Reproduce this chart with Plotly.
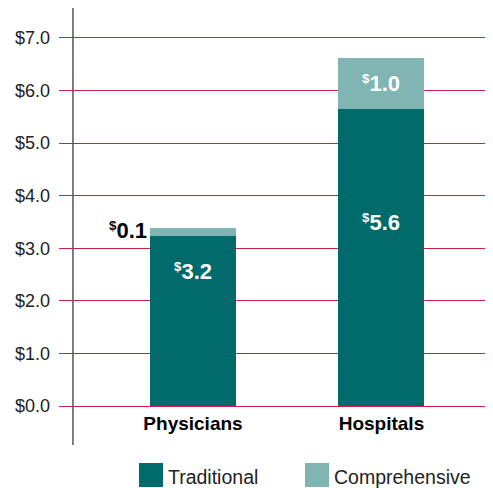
import plotly.graph_objects as go

# datos
categories = ["Physicians", "Hospitals"]
traditional = [3.24, 5.64]
comprehensive = [0.14, 0.98]
series_names = ["Traditional", "Comprehensive"]

TRAD_COLOR = "#006b6a"
COMP_COLOR = "#80b5b3"
GRID_COLOR = "#cc1f45"
FONT = "Helvetica, Arial, Liberation Sans, sans-serif"


def money(v):
    return "<sup>$</sup><span style='font-size:22px'>%.1f</span>" % v


fig = go.Figure()
fig.add_trace(go.Bar(name=series_names[0], x=categories, y=traditional,
                     marker=dict(color=TRAD_COLOR, line=dict(width=0)), width=0.456))
fig.add_trace(go.Bar(name=series_names[1], x=categories, y=comprehensive,
                     marker=dict(color=COMP_COLOR, line=dict(width=0)), width=0.456))

# etiquetas de valores
label_font = dict(color="white", size=19, weight="bold")
fig.add_annotation(x=categories[0], y=traditional[0] * 0.79, text=money(traditional[0]),
                   showarrow=False, font=label_font)
fig.add_annotation(x=categories[1], y=traditional[1] * 0.62, text=money(traditional[1]),
                   showarrow=False, font=label_font)
fig.add_annotation(x=categories[1], y=traditional[1] + comprehensive[1] / 2, text=money(comprehensive[1]),
                   showarrow=False, font=label_font)
fig.add_annotation(x=categories[0], y=traditional[0] + comprehensive[0] / 2, text=money(comprehensive[0]),
                   showarrow=False, xanchor="right", xshift=-44, yshift=1,
                   font=dict(color="black", size=19, weight="bold"))

# eje vertical
fig.add_shape(type="line", xref="x", yref="paper", x0=-0.637, x1=-0.637, y0=-0.092, y1=1.058,
              line=dict(color="#555555", width=1.5))

# leyenda dibujada a mano (cuadros grandes)
for name, color, x0, xt in [(series_names[0], TRAD_COLOR, 0.1843, 0.2466),
                            (series_names[1], COMP_COLOR, 0.5668, 0.6290)]:
    fig.add_shape(type="rect", xref="paper", yref="paper", x0=x0, x1=x0 + 0.0553,
                  y0=-0.2026, y1=-0.1395, fillcolor=color, line=dict(width=0))
    fig.add_annotation(xref="paper", yref="paper", x=xt, y=-0.175, text=name, showarrow=False,
                       xanchor="left", yanchor="middle", font=dict(size=19.5, color="#222222"))

fig.update_layout(
    barmode="stack",
    width=485,
    height=480,
    plot_bgcolor="white",
    paper_bgcolor="white",
    font=dict(family=FONT, color="#222222", size=18),
    margin=dict(l=51, r=0, t=22, b=78, autoexpand=False),
    showlegend=False,
    xaxis=dict(range=[-0.711, 1.592], showgrid=False, showline=False, ticks="", automargin=False,
               tickfont=dict(size=19, color="black", weight="bold")),
    yaxis=dict(range=[-0.076, 7.152], tickvals=[0, 1, 2, 3, 4, 5, 6, 7], tickformat="$.1f",
               showgrid=True, gridcolor=GRID_COLOR, gridwidth=1, zeroline=False, showline=False,
               ticks="", ticklabelstandoff=8, automargin=False,
               tickfont=dict(size=18, color="#222222")),
)

fig.write_html("out.html")
